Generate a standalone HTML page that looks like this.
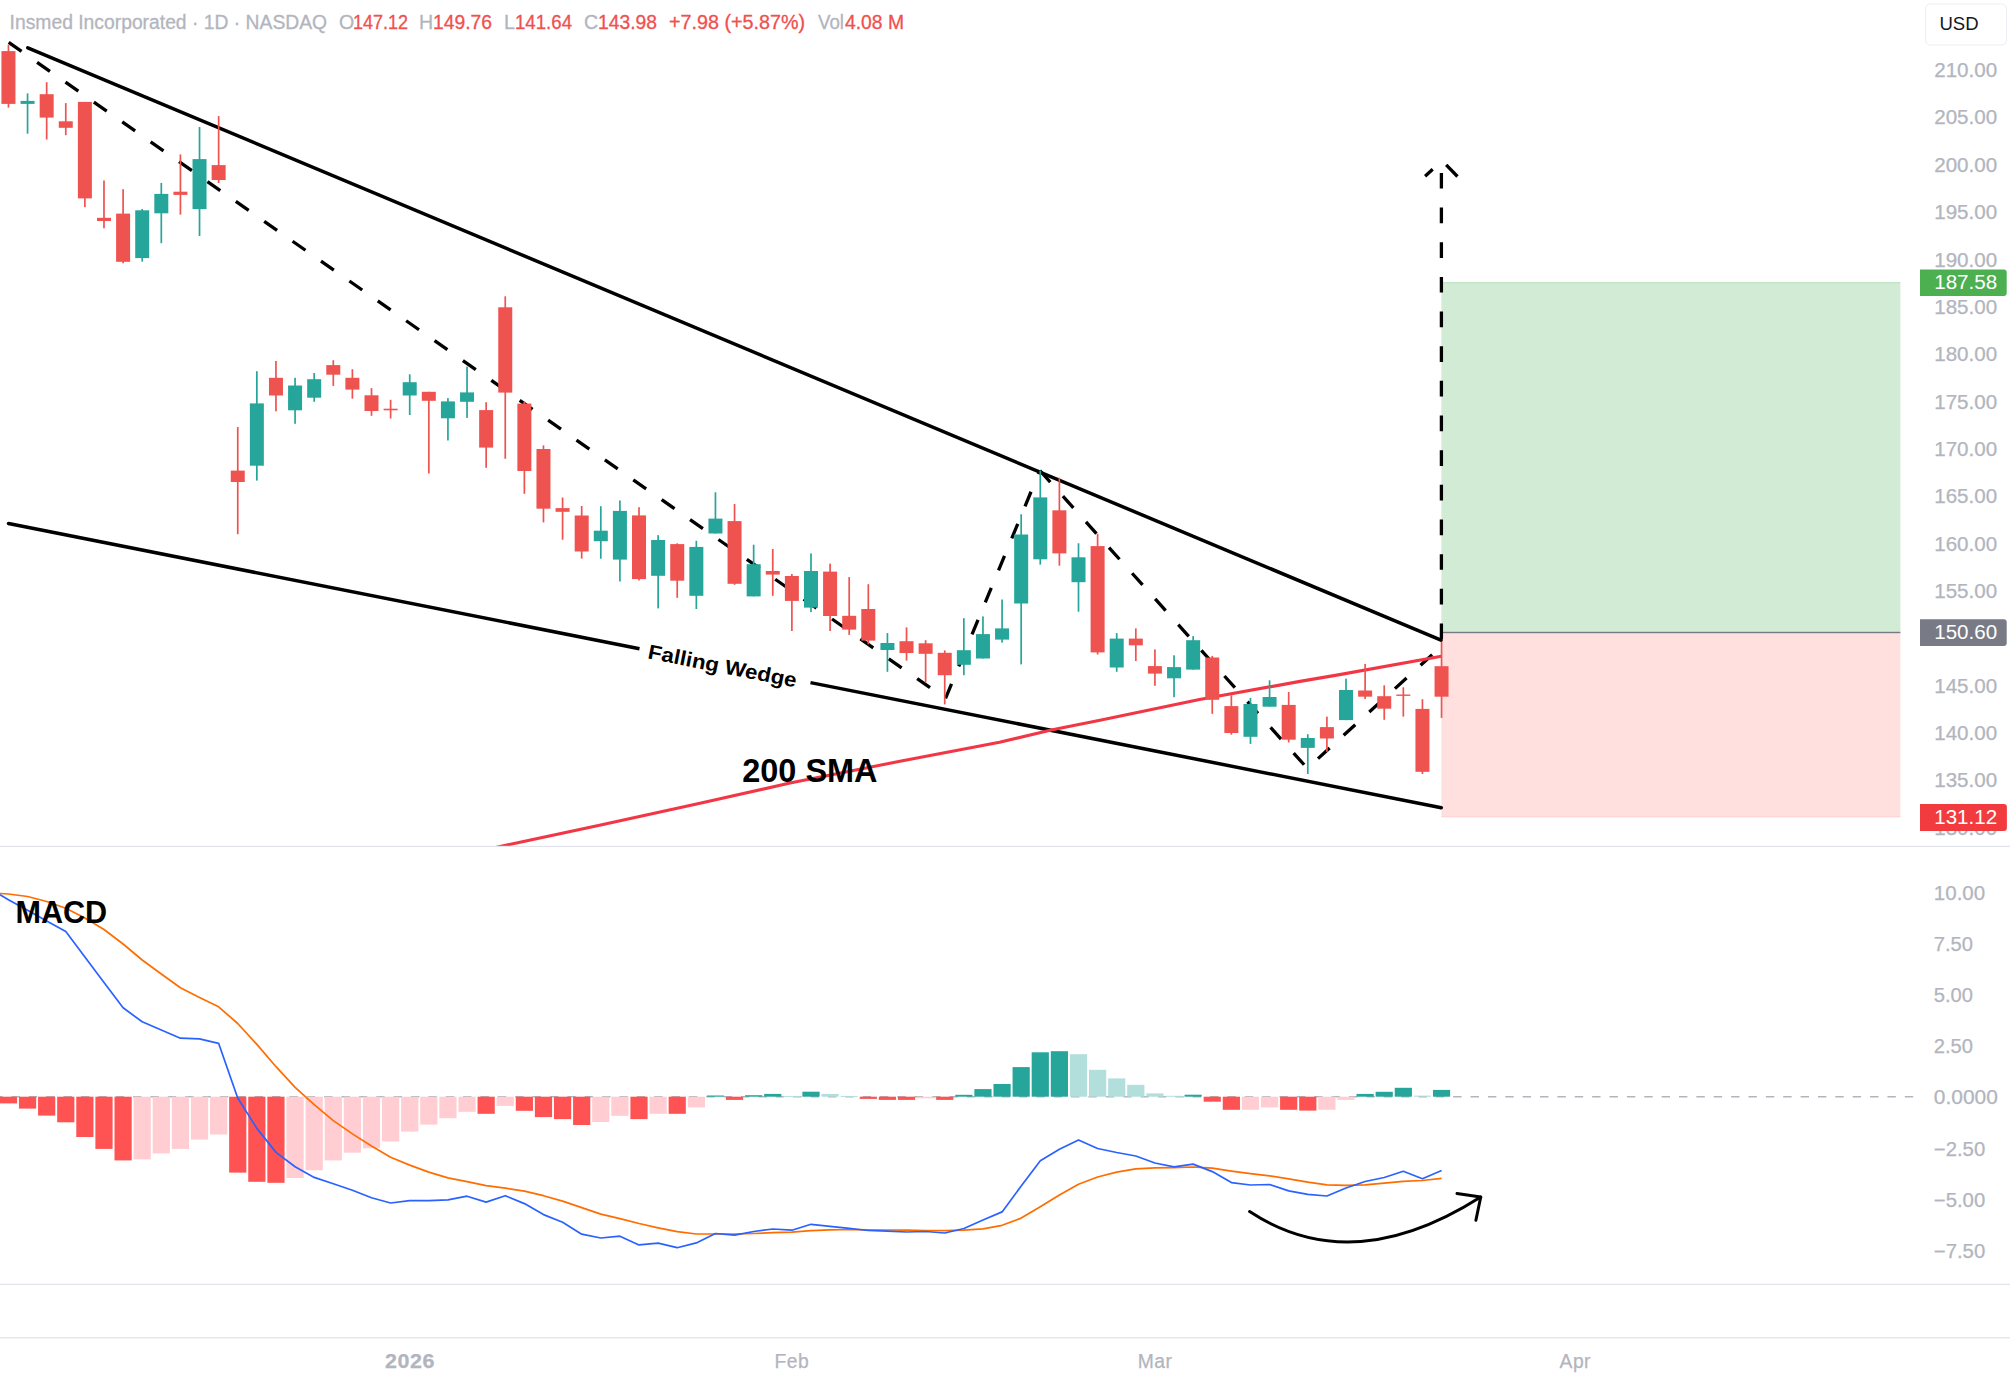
<!DOCTYPE html>
<html lang="en"><head><meta charset="utf-8"><title>Insmed Incorporated · 1D · NASDAQ</title>
<style>
html,body{margin:0;padding:0;background:#fff;}
body{width:2010px;height:1375px;overflow:hidden;font-family:"Liberation Sans",sans-serif;}
svg{display:block;}
text{font-family:"Liberation Sans",sans-serif;}
.ax{font-size:19.5px;fill:#b2b5be;stroke:#b2b5be;stroke-width:0.25px;}
.hd{font-size:19.6px;fill:#b2b5be;stroke:#b2b5be;stroke-width:0.3px;}
.hr{fill:#f0504f;stroke:#f0504f;}
.tm{font-size:19.3px;fill:#b2b5be;text-anchor:middle;letter-spacing:0.5px;stroke:#b2b5be;stroke-width:0.25px;}
.tag{font-size:19.5px;fill:#fff;}
</style></head>
<body>
<svg width="2010" height="1375" viewBox="0 0 2010 1375">
<rect width="2010" height="1375" fill="#ffffff"/>

<!-- position boxes -->
<rect x="1441.4" y="282.7" width="459" height="349.8" fill="#d2ebd4"/>
<rect x="1441.4" y="282.2" width="459" height="1" fill="#b5dfb8"/>
<rect x="1441.4" y="632.5" width="459" height="184.5" fill="#ffe0df"/>
<rect x="1441.4" y="816.3" width="459" height="1" fill="#fbd0cf"/>
<rect x="1441.4" y="631.8" width="459" height="1.4" fill="#787b86"/>

<!-- clip main pane -->
<defs><clipPath id="mp"><rect x="0" y="0" width="1920" height="846"/></clipPath></defs>


<!-- wedge lines -->
<g stroke="#000" stroke-width="3.5" fill="none">
<line x1="27.8" y1="47.8" x2="1441" y2="640.2" stroke-linecap="round"/>
<line x1="8.5" y1="523.5" x2="639.5" y2="648.7"/>
<line x1="810.5" y1="682.6" x2="1441.3" y2="807.8"/>
<circle cx="8.5" cy="523.5" r="1.75" fill="#000" stroke="none"/>
<circle cx="1441.3" cy="807.8" r="1.75" fill="#000" stroke="none"/>
</g>
<!-- dashed zigzag -->
<g stroke="#000" stroke-width="3.3" fill="none" stroke-dasharray="15.7 18.96">
<polyline points="8.7,42.4 945.5,698.5 1039.8,470.5"/>
<line x1="1039.8" y1="470.5" x2="1307.6" y2="768.6" stroke-dasharray="15.7 18.83"/>
<line x1="1318" y1="758.6" x2="1432.6" y2="654.4"/>
<line x1="1441.4" y1="172.9" x2="1441.4" y2="640"/>
</g>
<g stroke="#000" stroke-width="3.3" fill="none">
<line x1="1425.1" y1="176.3" x2="1432.7" y2="169.3"/>
<line x1="1446.2" y1="164.9" x2="1457.5" y2="176.5"/>
</g>

<!-- 200 SMA -->
<g clip-path="url(#mp)"><polyline points="496,847.4 500,846.5 599.5,825.3 700,803.3 790,783 900,761.3 999.5,742.3 1051.2,729.9 1100,720.3 1199.5,699.5 1300,681.4 1338.2,674.9 1441.4,656.2" fill="none" stroke="#f23645" stroke-width="3.1" stroke-linejoin="round"/></g>
<!-- labels on chart -->
<text transform="translate(647.1,658.2) rotate(11.2)" font-size="20.5" font-weight="700" fill="#000" textLength="151" lengthAdjust="spacingAndGlyphs">Falling Wedge</text>
<text x="742.2" y="781.8" font-size="32.5" font-weight="700" fill="#000" textLength="135.4" lengthAdjust="spacingAndGlyphs">200 SMA</text>

<!-- candles -->
<g clip-path="url(#mp)">
<rect x="7.60" y="44.9" width="1.7" height="62.7" fill="#ef5350"/>
<rect x="1.45" y="51.1" width="14.0" height="52.8" fill="#ef5350"/>
<rect x="26.71" y="93.4" width="1.7" height="40.3" fill="#26a69a"/>
<rect x="20.56" y="100.9" width="14.0" height="3.0" fill="#26a69a"/>
<rect x="45.82" y="82.2" width="1.7" height="57.3" fill="#ef5350"/>
<rect x="39.67" y="94.2" width="14.0" height="23.4" fill="#ef5350"/>
<rect x="64.92" y="103.1" width="1.7" height="32.1" fill="#ef5350"/>
<rect x="58.77" y="121.3" width="14.0" height="6.5" fill="#ef5350"/>
<rect x="84.03" y="101.9" width="1.7" height="105.2" fill="#ef5350"/>
<rect x="77.88" y="101.9" width="14.0" height="96.5" fill="#ef5350"/>
<rect x="103.14" y="180.5" width="1.7" height="47.8" fill="#ef5350"/>
<rect x="96.99" y="217.8" width="14.0" height="3.2" fill="#ef5350"/>
<rect x="122.25" y="189.2" width="1.7" height="74.1" fill="#ef5350"/>
<rect x="116.10" y="213.6" width="14.0" height="48.2" fill="#ef5350"/>
<rect x="141.36" y="209.0" width="1.7" height="52.6" fill="#26a69a"/>
<rect x="135.21" y="210.3" width="14.0" height="47.8" fill="#26a69a"/>
<rect x="160.46" y="183.0" width="1.7" height="60.2" fill="#26a69a"/>
<rect x="154.31" y="193.9" width="14.0" height="19.4" fill="#26a69a"/>
<rect x="179.57" y="154.4" width="1.7" height="60.2" fill="#ef5350"/>
<rect x="173.42" y="191.7" width="14.0" height="3.2" fill="#ef5350"/>
<rect x="198.68" y="127.0" width="1.7" height="109.0" fill="#26a69a"/>
<rect x="192.53" y="159.1" width="14.0" height="50.0" fill="#26a69a"/>
<rect x="217.79" y="116.1" width="1.7" height="66.9" fill="#ef5350"/>
<rect x="211.64" y="165.1" width="14.0" height="14.9" fill="#ef5350"/>
<rect x="236.90" y="427.0" width="1.7" height="107.2" fill="#ef5350"/>
<rect x="230.75" y="470.6" width="14.0" height="11.4" fill="#ef5350"/>
<rect x="256.00" y="371.2" width="1.7" height="109.4" fill="#26a69a"/>
<rect x="249.85" y="403.4" width="14.0" height="62.3" fill="#26a69a"/>
<rect x="275.11" y="361.0" width="1.7" height="50.4" fill="#ef5350"/>
<rect x="268.96" y="377.8" width="14.0" height="17.7" fill="#ef5350"/>
<rect x="294.22" y="377.8" width="1.7" height="46.0" fill="#26a69a"/>
<rect x="288.07" y="385.5" width="14.0" height="24.8" fill="#26a69a"/>
<rect x="313.33" y="373.0" width="1.7" height="28.8" fill="#26a69a"/>
<rect x="307.18" y="379.2" width="14.0" height="18.5" fill="#26a69a"/>
<rect x="332.44" y="360.2" width="1.7" height="25.7" fill="#ef5350"/>
<rect x="326.29" y="365.1" width="14.0" height="9.6" fill="#ef5350"/>
<rect x="351.54" y="369.2" width="1.7" height="29.5" fill="#ef5350"/>
<rect x="345.39" y="377.8" width="14.0" height="11.8" fill="#ef5350"/>
<rect x="370.65" y="388.1" width="1.7" height="27.7" fill="#ef5350"/>
<rect x="364.50" y="395.3" width="14.0" height="15.7" fill="#ef5350"/>
<rect x="389.76" y="399.8" width="1.7" height="18.7" fill="#ef5350"/>
<rect x="383.61" y="408.7" width="14.0" height="1.6" fill="#ef5350"/>
<rect x="408.87" y="374.3" width="1.7" height="40.7" fill="#26a69a"/>
<rect x="402.72" y="382.2" width="14.0" height="13.3" fill="#26a69a"/>
<rect x="427.98" y="391.8" width="1.7" height="81.7" fill="#ef5350"/>
<rect x="421.83" y="391.8" width="14.0" height="9.0" fill="#ef5350"/>
<rect x="447.08" y="398.1" width="1.7" height="42.4" fill="#26a69a"/>
<rect x="440.93" y="401.4" width="14.0" height="16.9" fill="#26a69a"/>
<rect x="466.19" y="366.6" width="1.7" height="51.3" fill="#26a69a"/>
<rect x="460.04" y="392.4" width="14.0" height="9.4" fill="#26a69a"/>
<rect x="485.30" y="402.2" width="1.7" height="65.6" fill="#ef5350"/>
<rect x="479.15" y="410.1" width="14.0" height="37.5" fill="#ef5350"/>
<rect x="504.41" y="296.3" width="1.7" height="162.5" fill="#ef5350"/>
<rect x="498.26" y="307.3" width="14.0" height="85.3" fill="#ef5350"/>
<rect x="523.52" y="401.6" width="1.7" height="92.2" fill="#ef5350"/>
<rect x="517.37" y="403.6" width="14.0" height="67.4" fill="#ef5350"/>
<rect x="542.62" y="445.4" width="1.7" height="77.0" fill="#ef5350"/>
<rect x="536.47" y="449.0" width="14.0" height="59.7" fill="#ef5350"/>
<rect x="561.73" y="497.5" width="1.7" height="42.2" fill="#ef5350"/>
<rect x="555.58" y="508.1" width="14.0" height="3.7" fill="#ef5350"/>
<rect x="580.84" y="506.0" width="1.7" height="52.6" fill="#ef5350"/>
<rect x="574.69" y="515.5" width="14.0" height="36.0" fill="#ef5350"/>
<rect x="599.95" y="506.2" width="1.7" height="52.5" fill="#26a69a"/>
<rect x="593.80" y="530.7" width="14.0" height="10.5" fill="#26a69a"/>
<rect x="619.06" y="500.5" width="1.7" height="81.0" fill="#26a69a"/>
<rect x="612.91" y="510.9" width="14.0" height="48.7" fill="#26a69a"/>
<rect x="638.16" y="507.2" width="1.7" height="73.3" fill="#ef5350"/>
<rect x="632.01" y="515.4" width="14.0" height="63.7" fill="#ef5350"/>
<rect x="657.27" y="535.1" width="1.7" height="73.3" fill="#26a69a"/>
<rect x="651.12" y="540.0" width="14.0" height="35.8" fill="#26a69a"/>
<rect x="676.38" y="543.3" width="1.7" height="54.5" fill="#ef5350"/>
<rect x="670.23" y="544.1" width="14.0" height="36.6" fill="#ef5350"/>
<rect x="695.49" y="540.8" width="1.7" height="68.2" fill="#26a69a"/>
<rect x="689.34" y="546.9" width="14.0" height="48.9" fill="#26a69a"/>
<rect x="714.60" y="492.3" width="1.7" height="41.2" fill="#26a69a"/>
<rect x="708.45" y="518.6" width="14.0" height="14.9" fill="#26a69a"/>
<rect x="733.70" y="504.0" width="1.7" height="80.8" fill="#ef5350"/>
<rect x="727.55" y="521.1" width="14.0" height="62.7" fill="#ef5350"/>
<rect x="752.81" y="544.7" width="1.7" height="51.7" fill="#26a69a"/>
<rect x="746.66" y="564.2" width="14.0" height="32.2" fill="#26a69a"/>
<rect x="771.92" y="549.0" width="1.7" height="46.8" fill="#ef5350"/>
<rect x="765.77" y="571.0" width="14.0" height="3.6" fill="#ef5350"/>
<rect x="791.03" y="574.0" width="1.7" height="57.0" fill="#ef5350"/>
<rect x="784.88" y="576.0" width="14.0" height="24.9" fill="#ef5350"/>
<rect x="810.14" y="553.4" width="1.7" height="58.7" fill="#26a69a"/>
<rect x="803.99" y="571.0" width="14.0" height="36.6" fill="#26a69a"/>
<rect x="829.24" y="563.6" width="1.7" height="67.4" fill="#ef5350"/>
<rect x="823.09" y="571.6" width="14.0" height="44.4" fill="#ef5350"/>
<rect x="848.35" y="577.1" width="1.7" height="57.8" fill="#ef5350"/>
<rect x="842.20" y="615.8" width="14.0" height="13.8" fill="#ef5350"/>
<rect x="867.46" y="584.2" width="1.7" height="60.1" fill="#ef5350"/>
<rect x="861.31" y="609.0" width="14.0" height="31.6" fill="#ef5350"/>
<rect x="886.57" y="633.1" width="1.7" height="38.7" fill="#26a69a"/>
<rect x="880.42" y="643.0" width="14.0" height="7.0" fill="#26a69a"/>
<rect x="905.68" y="627.4" width="1.7" height="33.2" fill="#ef5350"/>
<rect x="899.53" y="641.2" width="14.0" height="11.8" fill="#ef5350"/>
<rect x="924.78" y="640.2" width="1.7" height="42.2" fill="#ef5350"/>
<rect x="918.63" y="643.3" width="14.0" height="10.5" fill="#ef5350"/>
<rect x="943.89" y="650.4" width="1.7" height="54.0" fill="#ef5350"/>
<rect x="937.74" y="652.8" width="14.0" height="22.4" fill="#ef5350"/>
<rect x="963.00" y="618.2" width="1.7" height="57.0" fill="#26a69a"/>
<rect x="956.85" y="650.2" width="14.0" height="14.6" fill="#26a69a"/>
<rect x="982.11" y="616.4" width="1.7" height="42.1" fill="#26a69a"/>
<rect x="975.96" y="634.1" width="14.0" height="24.4" fill="#26a69a"/>
<rect x="1001.22" y="599.5" width="1.7" height="43.1" fill="#26a69a"/>
<rect x="995.07" y="628.4" width="14.0" height="11.2" fill="#26a69a"/>
<rect x="1020.32" y="514.3" width="1.7" height="150.1" fill="#26a69a"/>
<rect x="1014.17" y="534.5" width="14.0" height="69.0" fill="#26a69a"/>
<rect x="1039.43" y="470.5" width="1.7" height="94.1" fill="#26a69a"/>
<rect x="1033.28" y="497.4" width="14.0" height="61.9" fill="#26a69a"/>
<rect x="1058.54" y="477.7" width="1.7" height="88.0" fill="#ef5350"/>
<rect x="1052.39" y="510.3" width="14.0" height="43.1" fill="#ef5350"/>
<rect x="1077.65" y="543.3" width="1.7" height="68.4" fill="#26a69a"/>
<rect x="1071.50" y="557.3" width="14.0" height="24.9" fill="#26a69a"/>
<rect x="1096.76" y="533.7" width="1.7" height="120.8" fill="#ef5350"/>
<rect x="1090.61" y="546.1" width="14.0" height="106.3" fill="#ef5350"/>
<rect x="1115.86" y="633.1" width="1.7" height="38.7" fill="#26a69a"/>
<rect x="1109.71" y="638.6" width="14.0" height="28.9" fill="#26a69a"/>
<rect x="1134.97" y="628.4" width="1.7" height="32.6" fill="#ef5350"/>
<rect x="1128.82" y="638.6" width="14.0" height="6.7" fill="#ef5350"/>
<rect x="1154.08" y="649.4" width="1.7" height="36.4" fill="#ef5350"/>
<rect x="1147.93" y="666.1" width="14.0" height="7.5" fill="#ef5350"/>
<rect x="1173.19" y="655.3" width="1.7" height="41.9" fill="#26a69a"/>
<rect x="1167.04" y="667.1" width="14.0" height="11.2" fill="#26a69a"/>
<rect x="1192.30" y="636.1" width="1.7" height="33.5" fill="#26a69a"/>
<rect x="1186.15" y="640.2" width="14.0" height="29.4" fill="#26a69a"/>
<rect x="1211.40" y="655.9" width="1.7" height="57.9" fill="#ef5350"/>
<rect x="1205.25" y="657.5" width="14.0" height="42.3" fill="#ef5350"/>
<rect x="1230.51" y="695.3" width="1.7" height="39.4" fill="#ef5350"/>
<rect x="1224.36" y="706.1" width="14.0" height="26.9" fill="#ef5350"/>
<rect x="1249.62" y="697.9" width="1.7" height="46.0" fill="#26a69a"/>
<rect x="1243.47" y="704.0" width="14.0" height="32.8" fill="#26a69a"/>
<rect x="1268.73" y="680.3" width="1.7" height="26.4" fill="#26a69a"/>
<rect x="1262.58" y="697.0" width="14.0" height="9.7" fill="#26a69a"/>
<rect x="1287.84" y="692.0" width="1.7" height="50.5" fill="#ef5350"/>
<rect x="1281.69" y="704.9" width="14.0" height="34.8" fill="#ef5350"/>
<rect x="1306.94" y="734.2" width="1.7" height="39.8" fill="#26a69a"/>
<rect x="1300.79" y="738.0" width="14.0" height="9.9" fill="#26a69a"/>
<rect x="1326.05" y="716.6" width="1.7" height="35.3" fill="#ef5350"/>
<rect x="1319.90" y="727.1" width="14.0" height="11.4" fill="#ef5350"/>
<rect x="1345.16" y="678.6" width="1.7" height="41.5" fill="#26a69a"/>
<rect x="1339.01" y="690.0" width="14.0" height="30.1" fill="#26a69a"/>
<rect x="1364.27" y="663.9" width="1.7" height="35.1" fill="#ef5350"/>
<rect x="1358.12" y="690.5" width="14.0" height="6.2" fill="#ef5350"/>
<rect x="1383.38" y="685.3" width="1.7" height="34.5" fill="#ef5350"/>
<rect x="1377.23" y="696.2" width="14.0" height="12.5" fill="#ef5350"/>
<rect x="1402.48" y="687.3" width="1.7" height="29.3" fill="#ef5350"/>
<rect x="1396.33" y="694.5" width="14.0" height="1.4" fill="#ef5350"/>
<rect x="1421.59" y="699.2" width="1.7" height="74.8" fill="#ef5350"/>
<rect x="1415.44" y="708.9" width="14.0" height="62.9" fill="#ef5350"/>
<rect x="1440.70" y="641.8" width="1.7" height="76.1" fill="#ef5350"/>
<rect x="1434.55" y="666.2" width="14.0" height="30.5" fill="#ef5350"/>
</g>
<!-- header -->
<text y="29.2" class="hd"><tspan x="9.6" textLength="317.5" lengthAdjust="spacingAndGlyphs">Insmed Incorporated · 1D · NASDAQ</tspan></text>
<text y="29.2" class="hd"><tspan x="339">O</tspan><tspan class="hr" x="353" textLength="55" lengthAdjust="spacingAndGlyphs">147.12</tspan></text>
<text y="29.2" class="hd"><tspan x="419">H</tspan><tspan class="hr" x="433" textLength="59" lengthAdjust="spacingAndGlyphs">149.76</tspan></text>
<text y="29.2" class="hd"><tspan x="504">L</tspan><tspan class="hr" x="515" textLength="57" lengthAdjust="spacingAndGlyphs">141.64</tspan></text>
<text y="29.2" class="hd"><tspan x="584">C</tspan><tspan class="hr" x="598" textLength="59" lengthAdjust="spacingAndGlyphs">143.98</tspan></text>
<text y="29.2" class="hd"><tspan class="hr" x="669" textLength="136" lengthAdjust="spacingAndGlyphs">+7.98 (+5.87%)</tspan></text>
<text y="29.2" class="hd"><tspan x="818" textLength="26" lengthAdjust="spacingAndGlyphs">Vol</tspan><tspan class="hr" x="845" textLength="59" lengthAdjust="spacingAndGlyphs">4.08 M</tspan></text>

<!-- price axis -->
<text x="1934.2" y="77.0" class="ax" textLength="63" lengthAdjust="spacingAndGlyphs">210.00</text>
<text x="1934.2" y="124.4" class="ax" textLength="63" lengthAdjust="spacingAndGlyphs">205.00</text>
<text x="1934.2" y="171.8" class="ax" textLength="63" lengthAdjust="spacingAndGlyphs">200.00</text>
<text x="1934.2" y="219.1" class="ax" textLength="63" lengthAdjust="spacingAndGlyphs">195.00</text>
<text x="1934.2" y="266.5" class="ax" textLength="63" lengthAdjust="spacingAndGlyphs">190.00</text>
<text x="1934.2" y="313.8" class="ax" textLength="63" lengthAdjust="spacingAndGlyphs">185.00</text>
<text x="1934.2" y="361.2" class="ax" textLength="63" lengthAdjust="spacingAndGlyphs">180.00</text>
<text x="1934.2" y="408.5" class="ax" textLength="63" lengthAdjust="spacingAndGlyphs">175.00</text>
<text x="1934.2" y="455.9" class="ax" textLength="63" lengthAdjust="spacingAndGlyphs">170.00</text>
<text x="1934.2" y="503.3" class="ax" textLength="63" lengthAdjust="spacingAndGlyphs">165.00</text>
<text x="1934.2" y="550.6" class="ax" textLength="63" lengthAdjust="spacingAndGlyphs">160.00</text>
<text x="1934.2" y="598.0" class="ax" textLength="63" lengthAdjust="spacingAndGlyphs">155.00</text>
<text x="1934.2" y="645.3" class="ax" textLength="63" lengthAdjust="spacingAndGlyphs">150.00</text>
<text x="1934.2" y="692.7" class="ax" textLength="63" lengthAdjust="spacingAndGlyphs">145.00</text>
<text x="1934.2" y="740.0" class="ax" textLength="63" lengthAdjust="spacingAndGlyphs">140.00</text>
<text x="1934.2" y="787.4" class="ax" textLength="63" lengthAdjust="spacingAndGlyphs">135.00</text>
<text x="1934.2" y="834.8" class="ax" textLength="63" lengthAdjust="spacingAndGlyphs">130.00</text>
<rect x="1925.5" y="4" width="81" height="41" rx="5" ry="5" fill="#fff" stroke="#ebedf2" stroke-width="1"/>
<text x="1939.4" y="30.3" font-size="19" fill="#131722" textLength="39.2" lengthAdjust="spacingAndGlyphs">USD</text>

<path d="M1920,269.5 h83.7 a3,3 0 0 1 3,3 v20.4 a3,3 0 0 1 -3,3 h-83.7 z" fill="#4caf50"/>
<text x="1934.2" y="289.45" class="tag" textLength="63" lengthAdjust="spacingAndGlyphs">187.58</text>
<path d="M1920,619.3 h83.7 a3,3 0 0 1 3,3 v20.6 a3,3 0 0 1 -3,3 h-83.7 z" fill="#787b86"/>
<text x="1934.2" y="639.4" class="tag" textLength="63" lengthAdjust="spacingAndGlyphs">150.60</text>
<path d="M1920,804 h83.9 a3,3 0 0 1 3,3 v21 a3,3 0 0 1 -3,3 h-83.9 z" fill="#f23b3e"/>
<text x="1934.2" y="824.3" class="tag" textLength="63" lengthAdjust="spacingAndGlyphs">131.12</text>

<!-- pane separators -->
<rect x="0" y="845.8" width="2010" height="1.2" fill="#e0e3eb"/>
<rect x="0" y="1283.8" width="2010" height="1.2" fill="#e0e3eb"/>
<rect x="0" y="1337.2" width="2010" height="1.2" fill="#e0e3eb"/>

<!-- MACD pane -->
<line x1="-5.89" y1="1096.7" x2="1913.5" y2="1096.7" stroke="#b2b5be" stroke-width="1.4" stroke-dasharray="8.4 8.97"/>
<rect x="-0.15" y="1096.7" width="17.2" height="6.7" fill="#ff5252"/>
<rect x="18.96" y="1096.7" width="17.2" height="11.9" fill="#ff5252"/>
<rect x="38.07" y="1096.7" width="17.2" height="18.9" fill="#ff5252"/>
<rect x="57.17" y="1096.7" width="17.2" height="25.6" fill="#ff5252"/>
<rect x="76.28" y="1096.7" width="17.2" height="40.3" fill="#ff5252"/>
<rect x="95.39" y="1096.7" width="17.2" height="52.2" fill="#ff5252"/>
<rect x="114.50" y="1096.7" width="17.2" height="63.7" fill="#ff5252"/>
<rect x="133.61" y="1096.7" width="17.2" height="62.7" fill="#ffcdd2"/>
<rect x="152.71" y="1096.7" width="17.2" height="56.7" fill="#ffcdd2"/>
<rect x="171.82" y="1096.7" width="17.2" height="52.2" fill="#ffcdd2"/>
<rect x="190.93" y="1096.7" width="17.2" height="42.9" fill="#ffcdd2"/>
<rect x="210.04" y="1096.7" width="17.2" height="37.8" fill="#ffcdd2"/>
<rect x="229.15" y="1096.7" width="17.2" height="75.9" fill="#ff5252"/>
<rect x="248.25" y="1096.7" width="17.2" height="85.1" fill="#ff5252"/>
<rect x="267.36" y="1096.7" width="17.2" height="86.1" fill="#ff5252"/>
<rect x="286.47" y="1096.7" width="17.2" height="81.3" fill="#ffcdd2"/>
<rect x="305.58" y="1096.7" width="17.2" height="73.6" fill="#ffcdd2"/>
<rect x="324.69" y="1096.7" width="17.2" height="63.7" fill="#ffcdd2"/>
<rect x="343.79" y="1096.7" width="17.2" height="56.0" fill="#ffcdd2"/>
<rect x="362.90" y="1096.7" width="17.2" height="51.5" fill="#ffcdd2"/>
<rect x="382.01" y="1096.7" width="17.2" height="44.8" fill="#ffcdd2"/>
<rect x="401.12" y="1096.7" width="17.2" height="34.9" fill="#ffcdd2"/>
<rect x="420.23" y="1096.7" width="17.2" height="27.9" fill="#ffcdd2"/>
<rect x="439.33" y="1096.7" width="17.2" height="21.5" fill="#ffcdd2"/>
<rect x="458.44" y="1096.7" width="17.2" height="15.1" fill="#ffcdd2"/>
<rect x="477.55" y="1096.7" width="17.2" height="17.1" fill="#ff5252"/>
<rect x="496.66" y="1096.7" width="17.2" height="9.2" fill="#ffcdd2"/>
<rect x="515.77" y="1096.7" width="17.2" height="14.1" fill="#ff5252"/>
<rect x="534.87" y="1096.7" width="17.2" height="20.4" fill="#ff5252"/>
<rect x="553.98" y="1096.7" width="17.2" height="22.4" fill="#ff5252"/>
<rect x="573.09" y="1096.7" width="17.2" height="28.3" fill="#ff5252"/>
<rect x="592.20" y="1096.7" width="17.2" height="25.3" fill="#ffcdd2"/>
<rect x="611.31" y="1096.7" width="17.2" height="19.1" fill="#ffcdd2"/>
<rect x="630.41" y="1096.7" width="17.2" height="22.4" fill="#ff5252"/>
<rect x="649.52" y="1096.7" width="17.2" height="17.1" fill="#ffcdd2"/>
<rect x="668.63" y="1096.7" width="17.2" height="17.1" fill="#ff5252"/>
<rect x="687.74" y="1096.7" width="17.2" height="10.7" fill="#ffcdd2"/>
<rect x="706.85" y="1095.5" width="17.2" height="1.2" fill="#26a69a"/>
<rect x="725.95" y="1096.7" width="17.2" height="3.2" fill="#ff5252"/>
<rect x="745.06" y="1095.2" width="17.2" height="1.5" fill="#26a69a"/>
<rect x="764.17" y="1093.9" width="17.2" height="2.8" fill="#26a69a"/>
<rect x="783.28" y="1095.9" width="17.2" height="1.0" fill="#b2dfdb"/>
<rect x="802.39" y="1091.7" width="17.2" height="5.0" fill="#26a69a"/>
<rect x="821.49" y="1093.9" width="17.2" height="2.8" fill="#b2dfdb"/>
<rect x="840.60" y="1095.9" width="17.2" height="1.0" fill="#b2dfdb"/>
<rect x="859.71" y="1096.7" width="17.2" height="2.2" fill="#ff5252"/>
<rect x="878.82" y="1096.7" width="17.2" height="3.2" fill="#ff5252"/>
<rect x="897.93" y="1096.7" width="17.2" height="3.2" fill="#ff5252"/>
<rect x="917.03" y="1096.7" width="17.2" height="1.7" fill="#ffcdd2"/>
<rect x="936.14" y="1096.7" width="17.2" height="3.2" fill="#ff5252"/>
<rect x="955.25" y="1094.8" width="17.2" height="1.9" fill="#26a69a"/>
<rect x="974.36" y="1089.1" width="17.2" height="7.6" fill="#26a69a"/>
<rect x="993.47" y="1084.0" width="17.2" height="12.7" fill="#26a69a"/>
<rect x="1012.57" y="1067.1" width="17.2" height="29.6" fill="#26a69a"/>
<rect x="1031.68" y="1052.3" width="17.2" height="44.4" fill="#26a69a"/>
<rect x="1050.79" y="1051.2" width="17.2" height="45.5" fill="#26a69a"/>
<rect x="1069.90" y="1054.2" width="17.2" height="42.5" fill="#b2dfdb"/>
<rect x="1089.01" y="1069.8" width="17.2" height="26.9" fill="#b2dfdb"/>
<rect x="1108.11" y="1078.4" width="17.2" height="18.3" fill="#b2dfdb"/>
<rect x="1127.22" y="1084.8" width="17.2" height="11.9" fill="#b2dfdb"/>
<rect x="1146.33" y="1093.4" width="17.2" height="3.3" fill="#b2dfdb"/>
<rect x="1165.44" y="1095.8" width="17.2" height="1.0" fill="#b2dfdb"/>
<rect x="1184.55" y="1094.7" width="17.2" height="2.0" fill="#26a69a"/>
<rect x="1203.65" y="1096.7" width="17.2" height="5.0" fill="#ff5252"/>
<rect x="1222.76" y="1096.7" width="17.2" height="13.1" fill="#ff5252"/>
<rect x="1241.87" y="1096.7" width="17.2" height="13.1" fill="#ffcdd2"/>
<rect x="1260.98" y="1096.7" width="17.2" height="10.7" fill="#ffcdd2"/>
<rect x="1280.09" y="1096.7" width="17.2" height="13.1" fill="#ff5252"/>
<rect x="1299.19" y="1096.7" width="17.2" height="13.9" fill="#ff5252"/>
<rect x="1318.30" y="1096.7" width="17.2" height="13.1" fill="#ffcdd2"/>
<rect x="1337.41" y="1096.7" width="17.2" height="3.2" fill="#ffcdd2"/>
<rect x="1356.52" y="1093.9" width="17.2" height="2.8" fill="#26a69a"/>
<rect x="1375.63" y="1091.8" width="17.2" height="4.9" fill="#26a69a"/>
<rect x="1394.73" y="1087.8" width="17.2" height="8.9" fill="#26a69a"/>
<rect x="1413.84" y="1095.6" width="17.2" height="1.1" fill="#b2dfdb"/>
<rect x="1432.95" y="1089.9" width="17.2" height="6.8" fill="#26a69a"/>
<polyline points="0,893.5 8.4,894 27.6,896.5 46.7,901.5 65.8,908.3 84.9,918 104.0,929.5 123.1,944 142.2,960 161.3,974 180.4,987.8 199.5,997.6 218.6,1006.8 237.7,1023.5 256.9,1044.4 276.0,1066.7 295.1,1087.3 314.2,1104.7 333.3,1120.6 352.4,1133.9 371.5,1146 390.6,1157.2 409.7,1165.1 428.8,1172.1 447.9,1177.9 467.0,1181.7 486.1,1185.6 505.3,1188.2 524.4,1191.2 543.5,1195.7 562.6,1201.1 581.7,1207.6 600.8,1214.1 619.9,1218.6 639.0,1223.5 658.1,1227.8 677.2,1231.7 696.3,1234 715.4,1234 734.6,1234 753.7,1233.5 772.8,1232.7 791.9,1232.2 811.0,1230.7 830.1,1229.8 849.2,1229.5 868.3,1229.8 887.4,1230 906.5,1230.2 925.6,1230.5 944.7,1230.7 963.9,1230.2 983.0,1228.8 1002.1,1225.3 1021.2,1218.1 1040.3,1206.8 1059.4,1195 1078.5,1184.2 1097.6,1177 1116.7,1172.1 1135.8,1168.9 1154.9,1167.8 1174.0,1167.6 1193.1,1167 1212.3,1168.1 1231.4,1171.1 1250.5,1173.7 1269.6,1175.9 1288.7,1178.8 1307.8,1182.1 1326.9,1184.8 1346.0,1185.3 1365.1,1184.8 1384.2,1183.1 1403.3,1181.3 1422.4,1180.5 1441.6,1178.3" fill="none" stroke="#ff6d00" stroke-width="1.7" stroke-linejoin="round"/>
<polyline points="0,894.8 8.4,899.7 27.6,910.3 46.7,921 65.8,931.6 84.9,957 104.0,982.4 123.1,1007.8 142.2,1021.8 161.3,1030 180.4,1038.2 199.5,1038.8 218.6,1043.3 237.7,1098 256.9,1128.4 276.0,1152.4 295.1,1166.8 314.2,1177.4 333.3,1183.8 352.4,1190.2 371.5,1197.8 390.6,1203 409.7,1200.7 428.8,1200.7 447.9,1199.8 467.0,1196.2 486.1,1202.1 505.3,1195.7 524.4,1203.6 543.5,1214.6 562.6,1222.3 581.7,1234.2 600.8,1238 619.9,1236.2 639.0,1244.9 658.1,1243.2 677.2,1247.7 696.3,1242.9 715.4,1233.5 734.6,1235.2 753.7,1231.5 772.8,1229 791.9,1230.2 811.0,1224.3 830.1,1226.3 849.2,1228.3 868.3,1230.5 887.4,1231.2 906.5,1232 925.6,1231.5 944.7,1233 963.9,1228.5 983.0,1220 1002.1,1211.9 1021.2,1186 1040.3,1160.8 1059.4,1149.3 1078.5,1139.9 1097.6,1148.5 1116.7,1152.5 1135.8,1156 1154.9,1163 1174.0,1166.8 1193.1,1164.1 1212.3,1171.6 1231.4,1182.6 1250.5,1185 1269.6,1184.5 1288.7,1190.9 1307.8,1194.4 1326.9,1196 1346.0,1188 1365.1,1181.5 1384.2,1177.5 1403.3,1171.3 1422.4,1178.8 1441.6,1170.5" fill="none" stroke="#2962ff" stroke-width="1.7" stroke-linejoin="round"/>
<text x="15.4" y="922.5" font-size="30.5" font-weight="700" fill="#000" textLength="91.8" lengthAdjust="spacingAndGlyphs">MACD</text>
<text x="1933.8" y="899.5" class="ax" textLength="51.4" lengthAdjust="spacingAndGlyphs">10.00</text>
<text x="1933.8" y="950.7" class="ax" textLength="39.2" lengthAdjust="spacingAndGlyphs">7.50</text>
<text x="1933.8" y="1001.9" class="ax" textLength="39.2" lengthAdjust="spacingAndGlyphs">5.00</text>
<text x="1933.8" y="1053.2" class="ax" textLength="39.2" lengthAdjust="spacingAndGlyphs">2.50</text>
<text x="1933.8" y="1104.4" class="ax" textLength="64.0" lengthAdjust="spacingAndGlyphs">0.0000</text>
<text x="1933.8" y="1155.6" class="ax" textLength="51.4" lengthAdjust="spacingAndGlyphs">−2.50</text>
<text x="1933.8" y="1206.8" class="ax" textLength="51.4" lengthAdjust="spacingAndGlyphs">−5.00</text>
<text x="1933.8" y="1258.0" class="ax" textLength="51.4" lengthAdjust="spacingAndGlyphs">−7.50</text>
<!-- curved arrow -->
<g stroke="#000" stroke-width="3" fill="none" stroke-linecap="round" stroke-linejoin="round">
<path d="M1249.6,1211.6 Q1352,1279 1480.7,1197.1"/>
<path d="M1457,1193.4 L1480.7,1197.1 L1475.9,1220.2"/>
</g>

<!-- time axis -->
<text x="410" y="1367.6" class="tm" font-weight="700" textLength="50" lengthAdjust="spacingAndGlyphs">2026</text>
<text x="791.8" y="1368" class="tm">Feb</text>
<text x="1155" y="1368" class="tm">Mar</text>
<text x="1575.3" y="1368" class="tm">Apr</text>
</svg>
</body></html>
